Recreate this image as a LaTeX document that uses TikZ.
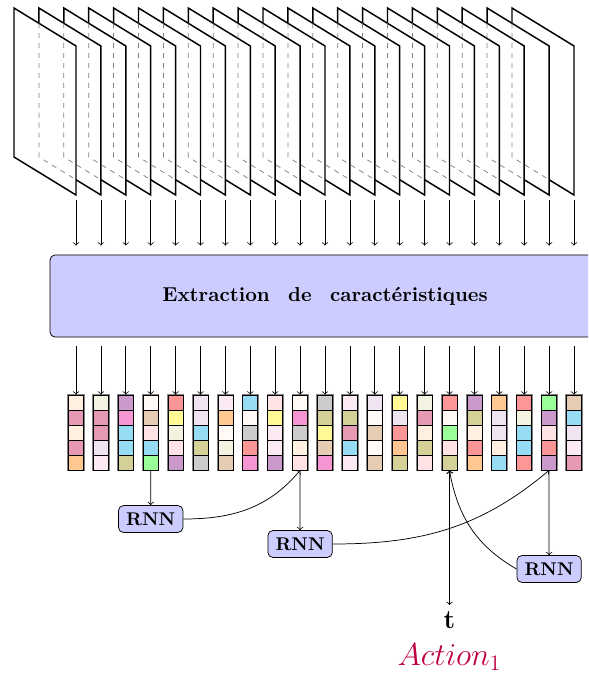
\documentclass[tikz,border=0pt]{standalone}
\usepackage{fontspec}
\usepackage{amsmath}
\usepackage{tikz}

\definecolor{cpeach}{RGB}{255,240,226}
\definecolor{cmauve}{RGB}{229,153,179}
\definecolor{capricot}{RGB}{255,200,145}
\definecolor{civory}{RGB}{244,243,226}
\definecolor{clilac}{RGB}{240,228,242}
\definecolor{cblush}{RGB}{251,234,243}
\definecolor{corchid}{RGB}{204,153,204}
\definecolor{cpink}{RGB}{245,150,210}
\definecolor{csky}{RGB}{150,220,245}
\definecolor{colive}{RGB}{212,208,152}
\definecolor{csnow}{RGB}{255,250,246}
\definecolor{ctan}{RGB}{229,204,178}
\definecolor{crose}{RGB}{255,226,228}
\definecolor{cmint}{RGB}{153,255,153}
\definecolor{csalmon}{RGB}{255,150,150}
\definecolor{clemon}{RGB}{255,248,150}
\definecolor{csilver}{RGB}{204,204,204}

\tikzset{
    imgframe/.style={thick, fill=white},
    hidden/.style={gray, dash pattern=on 2.7pt off 2.7pt},
    cell/.style={draw, inner sep=0pt, minimum size=8.15pt},
    box/.style={draw, rounded corners=2.7pt, fill=blue!20},
    rnn/.style={box, font=\bfseries, minimum width=35pt, minimum height=14.6pt, inner sep=1pt}
}

\begin{document}
\begin{tikzpicture}[x=0.5435pt, y=0.5435pt]
    \useasboundingbox (0,0) rectangle (588,-673);
    \clip (0,0) rectangle (588,-673);

    % Draw the frames, back to front
    \foreach \k in {20,19,...,0} {
        \pgfmathsetmacro{\xl}{14+24.9*\k}
        \filldraw[imgframe] (\xl,-8) -- (\xl+62,-46) -- (\xl+62,-195) -- (\xl,-157) -- cycle;
        \coordinate (f\k) at (\xl+62,-195);
    }

    % Draw the hidden edges
    \foreach \k in {1,...,20} {
        \pgfmathsetmacro{\xl}{14+24.9*\k}
        \draw[hidden] (\xl,-23.3) -- (\xl,-157) -- (\xl+37.1,-179.7);
    }

    % Draw the extraction block
    \node[box, minimum width=298.9pt, minimum height=44.6pt, font=\fontsize{10.95}{13}\selectfont\bfseries] (ext) at (325,-296)
        {Extraction\hspace{10pt}de\hspace{10pt}caractéristiques};

    % Draw the arrows into the block
    \foreach \k in {0,...,20} {
        \draw[->, shorten <=2.7pt, shorten >=4.9pt] (f\k) -- (f\k |- ext.north);
    }

    % Draw the feature vectors
    \foreach \i/\cols in {1/{cpeach,cmauve,cpeach,cmauve,capricot},
                          2/{civory,cmauve,cmauve,clilac,cblush},
                          3/{corchid,cpink,csky,csky,colive},
                          4/{csnow,ctan,crose,csky,cmint},
                          5/{csalmon,clemon,civory,crose,corchid},
                          6/{clilac,clilac,csky,colive,csilver},
                          7/{cblush,capricot,csnow,civory,ctan},
                          8/{csky,csnow,csilver,csalmon,cpink},
                          9/{crose,clemon,cblush,cblush,corchid},
                          10/{csnow,cpink,csilver,cpeach,crose},
                          11/{csilver,colive,clemon,ctan,cpink},
                          12/{cblush,colive,cmauve,csky,cblush},
                          13/{clilac,csnow,ctan,csnow,ctan},
                          14/{clemon,clilac,csalmon,capricot,colive},
                          15/{civory,cmauve,cpeach,colive,crose},
                          16/{csalmon,csnow,cmint,crose,colive},
                          17/{corchid,colive,cpeach,csalmon,capricot},
                          18/{capricot,clilac,clilac,cpeach,csky},
                          19/{csalmon,civory,csky,csky,csalmon},
                          20/{cmint,corchid,crose,csalmon,corchid},
                          21/{ctan,csky,clilac,cblush,cmauve}} {
        \pgfmathsetmacro{\xv}{76+24.9*(\i-1)}
        \draw[gray, line width=1.2pt] (\xv-7.5,-395) rectangle (\xv+7.5,-470);
        \foreach \c [count=\j] in \cols {
            \node[cell, fill=\c] (v\i-\j) at (\xv,-387.5-15*\j) {};
        }
    }

    % Draw the arrows out of the block
    \foreach \i in {1,...,21} {
        \draw[->, shorten <=4.9pt] (v\i-1 |- ext.south) -- (v\i-1.north);
    }

    % Draw the RNN blocks and the output
    \node[rnn] (rnn1) at (150.7,-519) {RNN};
    \node[rnn] (rnn2) at (300.1,-544) {RNN};
    \node[rnn] (rnn3) at (549.1,-569) {RNN};
    \node[font=\Large\bfseries] (t) at (449.5,-620) {t};
    \node[text=purple, font=\LARGE] (act) at (449.5,-657) {$Action_1$};

    \draw[->] (v4-5.south) -- (rnn1.north);
    \draw[->] (v10-5.south) -- (rnn2.north);
    \draw[->] (v20-5.south) -- (rnn3.north);
    \draw[->] (rnn1.east) to[out=0, in=-130] (v10-5.south);
    \draw[->] (rnn2.east) to[out=0, in=-140] (v20-5.south);
    \draw[->] (rnn3.west) to[out=150, in=-80] (v16-5.south);
    \draw[<->] (v16-5.south) -- (t.north);

\end{tikzpicture}
\end{document}
